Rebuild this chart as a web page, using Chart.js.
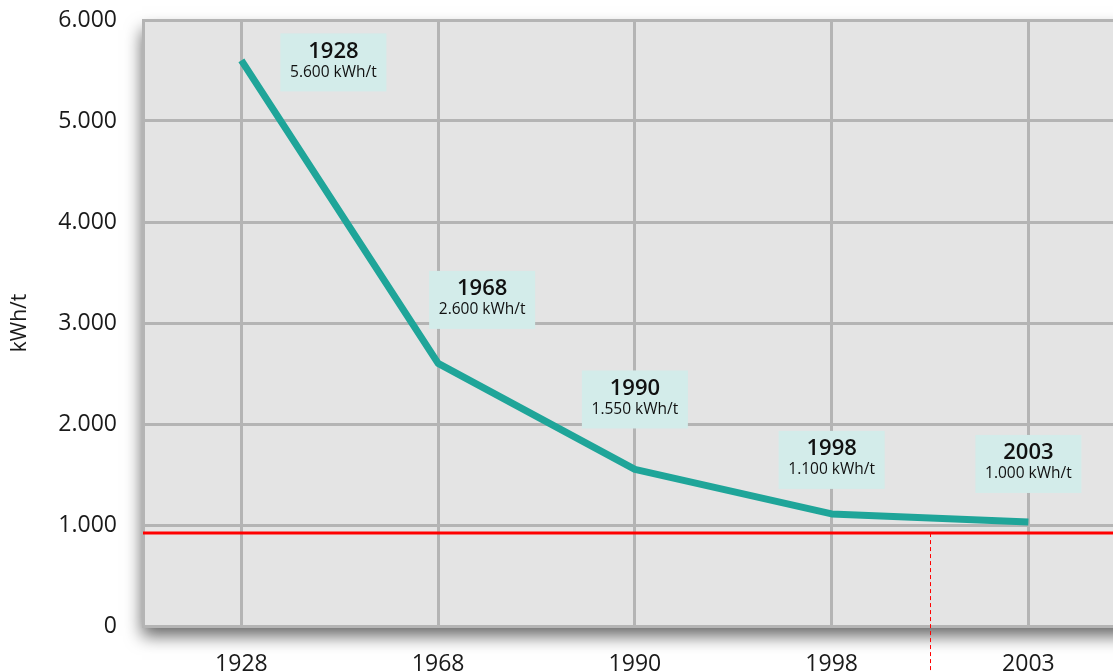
<!DOCTYPE html>
<html>
<head>
<meta charset="utf-8">
<script src="https://cdn.jsdelivr.net/npm/chart.js@4.4.1/dist/chart.umd.min.js"></script>
<style>
html,body{margin:0;padding:0;background:#fff;overflow:hidden;}
#wrap{width:1113px;height:672px;position:relative;}
</style>
</head>
<body>
<div id="wrap"><canvas id="c" width="1113" height="672"></canvas></div>
<script>
// ---- data ----
const categories = ['1928', '1968', '1990', '1998', '2003'];
const energyValues = [5600, 2600, 1550, 1110, 1030];
const boxValueLabels = ['5.600 kWh/t', '2.600 kWh/t', '1.550 kWh/t', '1.100 kWh/t', '1.000 kWh/t'];
const yTickValues = [0, 1000, 2000, 3000, 4000, 5000, 6000];
const thresholdValue = 920;
const markerPosition = 3.5; // between 1998 and 2003
const yAxisTitle = 'kWh/t';

// ---- label box placement (pixel offsets from each point) ----
const boxOffsets = [[92, 2], [44, -63.5], [0, -70], [0, -54], [0, -58]];

const FONT = "'Open Sans', 'Noto Sans', sans-serif";

function fmt(v) {
  return String(v).replace(/\B(?=(\d{3})+(?!\d))/g, '.');
}

const decorPlugin = {
  id: 'decor',
  beforeDraw(chart) {
    const {ctx, chartArea: a} = chart;
    ctx.save();
    ctx.shadowColor = 'rgba(0,0,0,0.6)';
    ctx.shadowBlur = 16;
    ctx.shadowOffsetX = -1;
    ctx.shadowOffsetY = 10;
    ctx.fillStyle = '#e4e4e4';
    ctx.fillRect(a.left, a.top, a.right - a.left + 60, a.bottom - a.top);
    ctx.restore();
  },
  beforeDatasetsDraw(chart) {
    const {ctx, chartArea: a, scales: {x, y}} = chart;
    const yy = y.getPixelForValue(thresholdValue);
    ctx.save();
    const mx = Math.round(x.getPixelForValue(markerPosition)) + 0.5;
    ctx.strokeStyle = '#ff0000';
    ctx.lineWidth = 1;
    ctx.setLineDash([4, 3]);
    ctx.beginPath();
    ctx.moveTo(mx, yy);
    ctx.lineTo(mx, chart.height);
    ctx.stroke();
    ctx.setLineDash([]);
    ctx.strokeStyle = '#ff0000';
    ctx.lineWidth = 3;
    ctx.beginPath();
    ctx.moveTo(a.left, yy);
    ctx.lineTo(chart.width, yy);
    ctx.stroke();
    ctx.restore();
  },
  afterDatasetsDraw(chart) {
    const {ctx} = chart;
    const meta = chart.getDatasetMeta(0);
    ctx.save();
    meta.data.forEach((pt, i) => {
      const cx = pt.x + boxOffsets[i][0];
      const cy = pt.y + boxOffsets[i][1];
      const w = 106, h = 58;
      const top = cy - h / 2;
      ctx.fillStyle = '#d3ecea';
      ctx.fillRect(cx - w / 2, top, w, h);
      ctx.fillStyle = '#111';
      ctx.textAlign = 'center';
      ctx.textBaseline = 'middle';
      ctx.font = "600 22px " + FONT;
      ctx.fillText(categories[i], cx, top + 18);
      ctx.font = "500 15.5px " + FONT;
      ctx.fillText(boxValueLabels[i], cx, top + 39);
    });
    ctx.restore();
  }
};

new Chart(document.getElementById('c'), {
  type: 'line',
  data: {
    datasets: [{
      data: energyValues.map((v, i) => ({x: i, y: v})),
      borderColor: '#1fa599',
      borderWidth: 7,
      pointRadius: 0,
      tension: 0,
      borderCapStyle: 'butt',
      borderJoinStyle: 'round',
      fill: false
    }]
  },
  options: {
    responsive: false,
    animation: false,
    events: [],
    layout: {padding: {left: 7, top: 20, right: 0, bottom: 0}},
    plugins: {legend: {display: false}, tooltip: {enabled: false}},
    scales: {
      x: {
        type: 'linear',
        min: -0.5,
        max: 4.43,
        afterBuildTicks(scale) {
          scale.ticks = categories.map((c, i) => ({value: i}));
        },
        afterFit(scale) { scale.height = 46; },
        ticks: {
          callback: (v) => categories[v],
          font: {family: FONT, size: 23},
          color: '#1a1a1a',
          padding: 0,
          maxRotation: 0,
          autoSkip: false
        },
        grid: {color: '#b4b4b4', lineWidth: 3, drawTicks: true, tickLength: 25, tickColor: 'rgba(0,0,0,0)'},
        border: {display: false}
      },
      y: {
        min: 0,
        max: 6000,
        afterBuildTicks(scale) {
          scale.ticks = yTickValues.map(v => ({value: v}));
        },
        afterFit(scale) { scale.width = 136; },
        ticks: {
          callback: (v) => fmt(v),
          font: {family: FONT, size: 23},
          color: '#1a1a1a',
          padding: 0
        },
        grid: {color: '#b4b4b4', lineWidth: 3, drawTicks: true, tickLength: 26, tickColor: 'rgba(0,0,0,0)'},
        border: {display: true, color: '#b4b4b4', width: 3},
        title: {
          display: true,
          text: yAxisTitle,
          font: {family: FONT, size: 21},
          color: '#1a1a1a',
          padding: 0
        }
      }
    }
  },
  plugins: [decorPlugin]
});
</script>
</body>
</html>
